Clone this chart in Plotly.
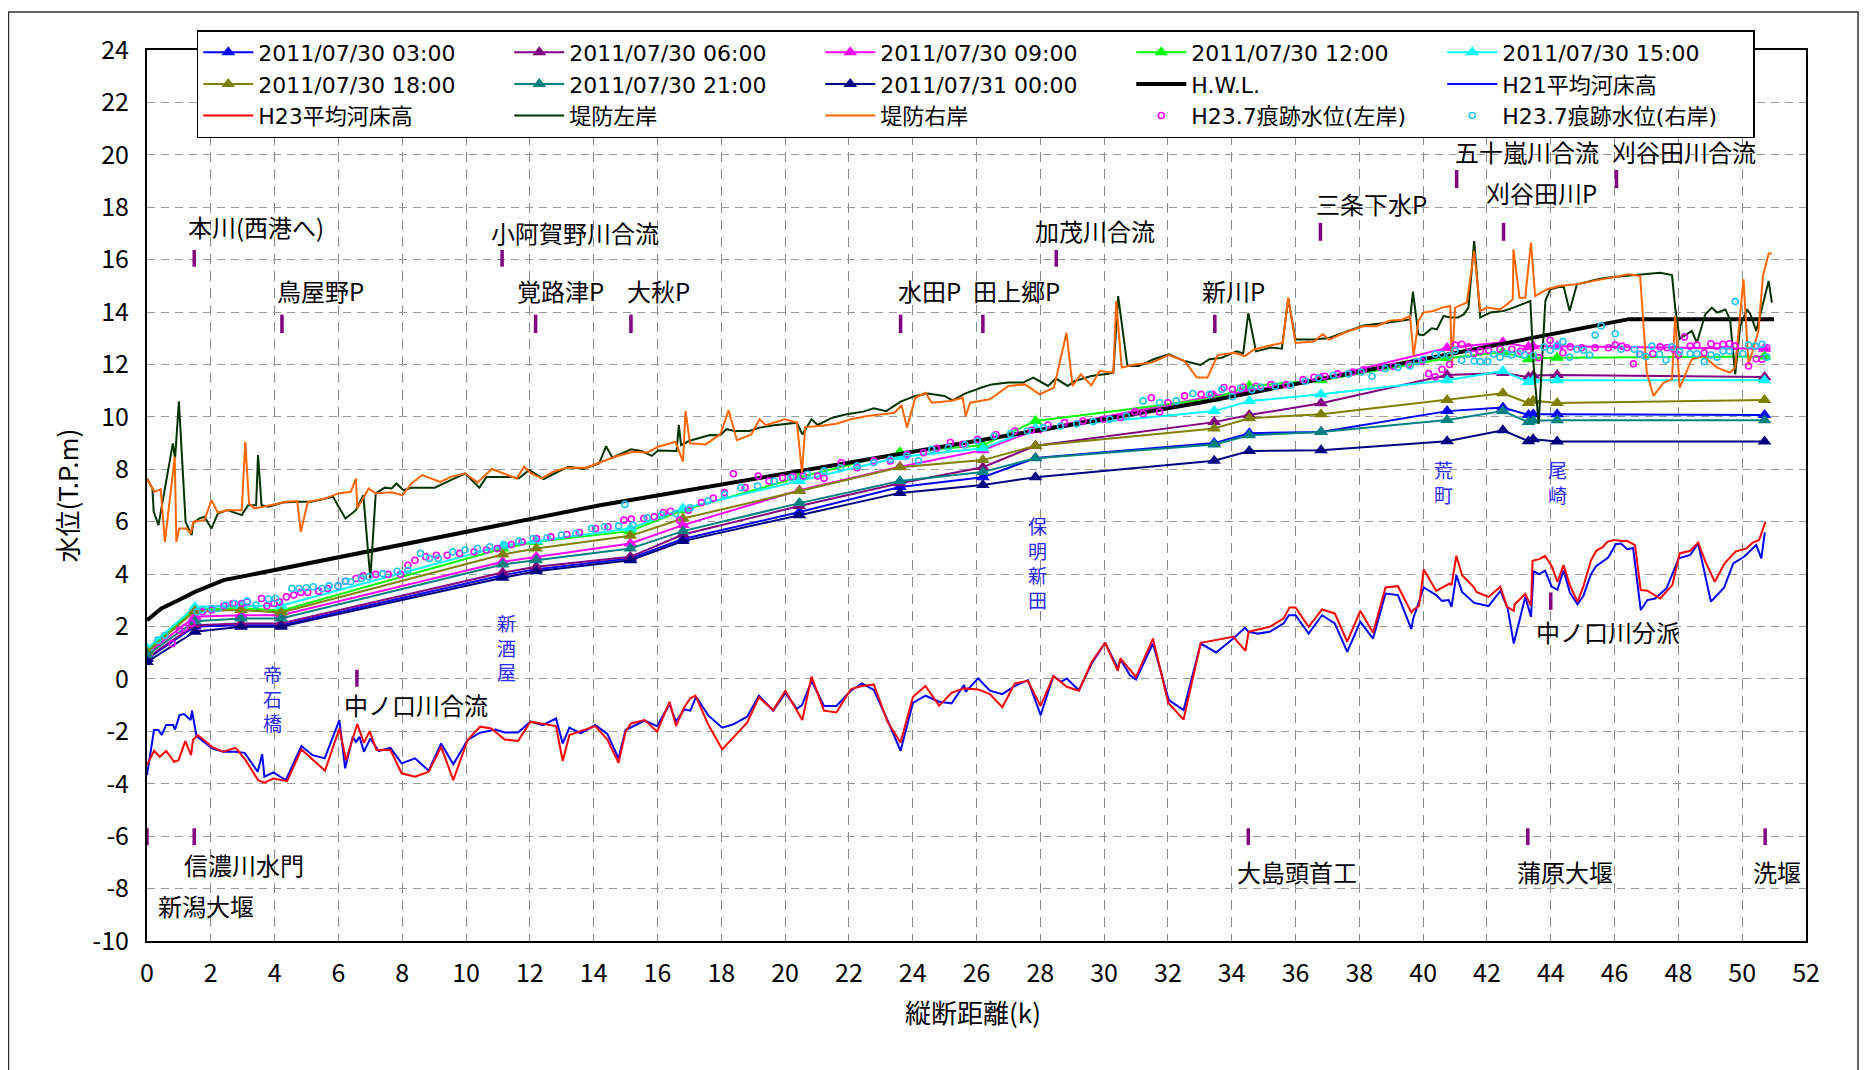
import plotly.graph_objects as go

# ---------------- data ----------------
STATION_KM = [0, 1.5, 2.95, 4.2, 11.15, 12.2, 15.15, 16.8, 20.45, 23.6, 26.2, 27.85,
              33.45, 34.55, 36.8, 40.75, 42.5, 43.3, 43.45, 44.2, 50.7]

WL_0300 = [0.76, 2.0, 2.05, 2.05, 3.96, 4.19, 4.6, 5.34, 6.37, 7.32, 7.7, 8.43, 9.0, 9.38, 9.42, 10.22, 10.36, 10.07, 10.1, 10.1, 10.07]
WL_0600 = [0.81, 2.05, 2.12, 2.12, 4.06, 4.28, 4.66, 5.51, 6.6, 7.47, 8.08, 8.9, 9.8, 10.07, 10.52, 11.6, 11.67, 11.52, 11.58, 11.6, 11.52]
WL_0900 = [0.97, 2.37, 2.43, 2.43, 4.47, 4.66, 5.17, 5.87, 7.2, 8.1, 8.73, 9.5, 10.8, 11.0, 11.47, 12.63, 12.85, 12.67, 12.7, 12.7, 12.6]
WL_1200 = [1.1, 2.65, 2.71, 2.6, 4.98, 5.23, 5.64, 6.44, 7.7, 8.65, 8.92, 9.84, 10.7, 11.18, 11.4, 12.24, 12.47, 12.2, 12.25, 12.26, 12.3]
WL_1500 = [1.16, 2.75, 2.79, 2.79, 5.08, 5.26, 5.74, 6.5, 7.55, 8.47, 8.8, 9.57, 10.22, 10.6, 10.86, 11.4, 11.75, 11.33, 11.4, 11.4, 11.4]
WL_1800 = [1.03, 2.59, 2.63, 2.54, 4.75, 4.98, 5.46, 6.12, 7.17, 8.08, 8.35, 8.9, 9.56, 9.95, 10.1, 10.64, 10.9, 10.53, 10.62, 10.53, 10.64]
WL_2100 = [0.91, 2.2, 2.31, 2.31, 4.37, 4.53, 4.98, 5.64, 6.71, 7.55, 7.9, 8.42, 8.95, 9.3, 9.42, 9.88, 10.22, 9.8, 9.85, 9.87, 9.87]
WL_0000 = [0.65, 1.8, 1.99, 1.99, 3.86, 4.11, 4.53, 5.26, 6.25, 7.1, 7.4, 7.7, 8.33, 8.7, 8.73, 9.07, 9.49, 9.07, 9.15, 9.06, 9.06]

WL_NAMES = ["2011/07/30 03:00", "2011/07/30 06:00", "2011/07/30 09:00", "2011/07/30 12:00",
            "2011/07/30 15:00", "2011/07/30 18:00", "2011/07/30 21:00", "2011/07/31 00:00"]

HWL_KM = [0, 0.45, 1.0, 1.5, 2.4, 14.2, 33.0, 46.45, 51.0]
HWL_EL = [2.24, 2.69, 3.01, 3.32, 3.77, 6.63, 10.54, 13.73, 13.73]

H21_KM = [0, 0.22, 0.36, 0.46, 0.6, 0.82, 0.88, 1.02, 1.16, 1.37, 1.41, 1.55, 2.04, 2.39, 2.77, 3.06, 3.47, 3.61, 3.68, 3.96,
          4.35, 4.84, 5.19, 5.57, 6.03, 6.21, 6.45, 6.55, 6.66, 6.8, 7.0, 7.26, 7.63, 7.98, 8.4, 8.83, 9.22, 9.6, 10.05, 10.44,
          10.93, 11.21, 11.63, 12.02, 12.4, 12.82, 13.03, 13.24, 13.59, 14.05, 14.43, 14.78, 15.0, 15.6, 15.99, 16.38, 16.58, 16.84, 17.03, 17.21,
          17.6, 18.03, 18.38, 18.81, 19.18, 19.63, 20.01, 20.37, 20.53, 20.83, 21.22, 21.61, 22.06, 22.41, 22.78, 23.21, 23.62, 24.01, 24.4, 24.83,
          25.22, 25.61, 25.66, 26.05, 26.42, 26.81, 27.2, 27.61, 28.01, 28.41, 28.65, 28.83, 29.21, 29.61, 30.03, 30.43, 30.51, 30.81, 31.0, 31.53,
          32.03, 32.49, 33.03, 33.51, 34.05, 34.41, 34.53, 34.83, 35.19, 35.63, 35.79, 36.0, 36.41, 36.83, 37.23, 37.62, 38.03, 38.43, 38.82, 39.21,
          39.63, 39.69, 40.02, 40.41, 40.59, 40.8, 40.89, 41.04, 41.22, 41.6, 42.05, 42.42, 42.65, 42.84, 43.2, 43.38, 43.46, 43.64, 43.82, 44.03,
          44.21, 44.4, 44.6, 44.84, 45.02, 45.26, 45.42, 45.8, 46.04, 46.2, 46.4, 46.58, 46.82, 47.03, 47.27, 47.63, 48.01, 48.37, 48.62, 49.02,
          49.43, 49.72, 50.06, 50.44, 50.6, 50.71]
H21_EL = [-3.67, -1.95, -1.95, -2.14, -1.76, -1.76, -1.93, -1.38, -1.34, -1.57, -1.21, -2.18, -2.65, -2.78, -2.78, -2.82, -3.54, -2.87, -3.73, -3.57,
          -3.86, -2.56, -2.91, -3.03, -1.57, -3.41, -2.21, -2.4, -2.21, -2.78, -2.27, -2.75, -2.63, -3.22, -3.03, -3.5, -2.46, -3.26, -2.33, -2.05,
          -1.93, -2.04, -2.04, -1.63, -1.76, -1.51, -2.46, -1.86, -2.08, -1.76, -2.1, -3.03, -1.95, -1.59, -1.8, -0.96, -1.63, -1.16, -1.21, -0.68,
          -1.4, -1.86, -1.73, -1.44, -0.64, -1.21, -0.53, -1.14, -1.0, -0.08, -1.03, -1.03, -0.45, -0.17, -0.42, -1.57, -2.74, -0.91, -0.64, -0.87,
          -0.93, -0.23, -0.49, 0.02, -0.45, -0.58, -0.27, -0.04, -1.38, 0.11, -0.11, 0.02, -0.43, 0.59, 1.38, 0.4, 0.75, 0.14, -0.02, 1.35,
          -0.81, -1.19, 1.35, 1.01, 1.54, 1.95, 1.8, 1.73, 1.8, 2.12, 2.43, 2.43, 1.73, 2.43, 2.12, 1.03, 2.18, 1.54, 3.26, 3.2,
          1.9, 2.31, 3.49, 3.2, 2.98, 3.01, 2.75, 3.96, 3.32, 2.9, 2.78, 3.36, 2.69, 1.35, 3.13, 2.37, 4.11, 4.0, 4.13, 3.52,
          3.41, 4.15, 3.3, 2.85, 3.16, 4.0, 4.3, 4.63, 5.14, 5.17, 4.95, 5.0, 2.63, 3.01, 3.07, 3.46, 4.6, 4.73, 5.17, 2.95,
          3.48, 4.41, 4.66, 5.11, 4.6, 5.59]

H23_KM = [0, 0.22, 0.4, 0.6, 0.85, 0.99, 1.2, 1.38, 1.44, 1.59, 2.04, 2.39, 2.78, 3.09, 3.48, 3.68, 3.96, 4.39, 4.84, 5.58,
          6.03, 6.24, 6.59, 6.8, 6.98, 7.19, 7.63, 7.98, 8.4, 8.83, 9.22, 9.6, 10.05, 10.44, 10.79, 11.21, 11.63, 12.02, 12.82, 13.03,
          13.24, 14.05, 14.43, 14.78, 15.0, 15.17, 15.6, 15.99, 16.38, 16.58, 16.84, 17.03, 17.19, 17.6, 18.03, 18.81, 19.18, 19.63, 20.01, 20.54,
          20.83, 21.22, 21.61, 22.06, 22.41, 22.78, 23.21, 23.62, 24.01, 24.4, 24.83, 25.22, 25.61, 26.05, 26.42, 26.81, 27.2, 27.61, 28.01, 28.41,
          28.83, 29.21, 29.61, 30.03, 30.43, 30.51, 31.0, 31.53, 32.01, 32.49, 33.03, 34.05, 34.43, 34.53, 35.19, 35.63, 35.81, 36.0, 36.41, 36.83,
          37.23, 37.62, 38.03, 38.43, 38.82, 39.21, 39.63, 39.69, 39.87, 40.02, 40.41, 40.83, 40.89, 41.04, 41.22, 41.6, 41.67, 42.05, 42.42, 42.63,
          42.84, 42.87, 43.2, 43.38, 43.43, 43.64, 43.82, 44.03, 44.21, 44.4, 44.6, 44.84, 45.02, 45.26, 45.44, 45.62, 45.77, 45.98, 46.22, 46.4,
          46.64, 46.82, 47.03, 47.43, 47.81, 48.04, 48.37, 48.62, 48.85, 49.14, 49.45, 49.79, 50.13, 50.33, 50.53, 50.73]
H23_EL = [-3.29, -2.74, -2.97, -2.75, -3.16, -3.1, -2.37, -2.91, -2.33, -2.14, -2.59, -2.78, -2.63, -3.1, -3.86, -3.96, -3.8, -3.9, -2.69, -3.5,
          -1.89, -3.1, -1.72, -2.44, -1.99, -2.71, -2.71, -3.6, -3.73, -3.54, -2.59, -3.86, -2.33, -1.82, -1.89, -2.31, -2.37, -1.63, -1.8, -3.13,
          -2.14, -1.8, -2.31, -3.2, -2.01, -1.7, -1.57, -2.01, -0.87, -1.8, -1.08, -0.74, -0.64, -1.76, -2.69, -1.67, -0.7, -1.19, -0.45, -1.57,
          0.09, -1.21, -1.28, -0.39, -0.27, -0.21, -1.63, -2.43, -0.68, -0.27, -1.02, -0.53, -0.36, -0.4, -0.58, -1.08, -0.17, -0.07, -1.03, 0.11,
          -0.3, -0.45, 0.65, 1.38, 0.31, 0.78, 0.08, 1.54, -0.91, -1.55, 1.38, 1.61, 1.07, 1.8, 1.99, 2.31, 2.73, 2.73, 1.99, 2.65,
          2.5, 1.42, 2.6, 1.76, 3.49, 3.54, 2.54, 2.63, 2.79, 4.18, 3.36, 3.64, 3.58, 4.7, 3.96, 3.49, 3.32, 3.13, 3.52, 2.75,
          2.6, 2.85, 3.24, 2.79, 4.51, 4.57, 4.7, 4.3, 3.7, 4.34, 3.58, 2.94, 3.52, 4.53, 4.91, 5.02, 5.23, 5.3, 5.26, 5.26,
          5.11, 3.39, 3.37, 3.07, 3.58, 4.79, 4.89, 5.2, 4.47, 3.71, 4.41, 4.86, 4.98, 5.2, 5.3, 6.0]

LEVEE_L_KM = [0, 0.17, 0.21, 0.36, 0.81, 0.88, 1.0, 1.21, 1.4, 1.44, 1.63, 1.8, 2.02, 2.22, 2.52, 2.97, 3.17, 3.42, 3.48, 3.59,
              3.81, 4.26, 4.71, 5.15, 5.83, 6.22, 6.55, 6.78, 7.0, 7.17, 7.45, 7.67, 7.82, 8.04, 8.29, 9.02, 9.52, 9.97, 10.42, 10.64,
              11.42, 11.65, 11.98, 12.43, 12.77, 13.22, 13.66, 14.17, 14.39, 14.59, 15.17, 15.5, 15.82, 16.02, 16.6, 16.67, 16.74, 16.99, 17.64, 17.97,
              18.16, 18.42, 18.88, 19.2, 19.66, 20.37, 20.54, 20.83, 21.02, 21.48, 21.93, 22.45, 22.78, 23.17, 23.62, 24.08, 24.47, 24.99, 25.25, 25.64,
              26.16, 26.48, 27.0, 27.46, 27.78, 28.24, 28.49, 28.86, 29.08, 29.6, 30.12, 30.29, 30.44, 30.73, 31.09, 31.55, 32.03, 32.52, 33.02, 33.3,
              33.69, 34.15, 34.36, 34.52, 34.76, 35.23, 35.57, 35.77, 36.0, 36.58, 37.05, 37.59, 38.13, 38.81, 39.21, 39.59, 39.68, 39.85, 40.01, 40.27,
              40.43, 40.64, 40.85, 41.09, 41.27, 41.42, 41.6, 41.79, 42.1, 42.52, 42.83, 43.2, 43.36, 43.46, 43.62, 43.83, 43.98, 44.4, 44.59, 44.82,
              45.24, 45.55, 45.97, 46.49, 47.01, 47.43, 47.8, 47.9, 48.04, 48.27, 48.42, 48.58, 48.84, 49.05, 49.21, 49.47, 49.62, 49.78, 49.94, 50.15,
              50.25, 50.44, 50.83, 50.93]
LEVEE_L_EL = [7.65, 7.27, 6.38, 5.87, 8.99, 8.41, 10.58, 5.99, 5.49, 5.93, 6.12, 6.19, 5.74, 6.31, 6.44, 6.25, 6.63, 6.63, 8.54, 6.63,
              6.57, 6.73, 6.76, 6.76, 6.95, 6.12, 6.44, 7.01, 3.83, 7.08, 7.3, 7.27, 7.46, 7.2, 7.3, 7.3, 7.59, 7.84, 7.3, 7.71,
              7.71, 7.65, 7.97, 7.63, 7.84, 8.1, 8.01, 8.22, 8.88, 8.44, 8.76, 8.7, 8.51, 8.72, 8.7, 9.69, 8.92, 9.08, 9.31, 9.3,
              9.53, 9.46, 9.46, 9.59, 9.68, 9.78, 9.33, 9.91, 9.69, 9.97, 10.1, 10.2, 10.33, 10.22, 10.58, 10.8, 10.89, 10.8, 10.63, 10.89,
              11.12, 11.24, 11.31, 11.31, 11.5, 11.18, 11.46, 11.18, 11.37, 11.56, 11.65, 11.69, 14.61, 11.94, 11.94, 12.2, 12.39, 12.13, 11.98, 12.2,
              12.26, 12.5, 12.42, 13.97, 12.5, 12.65, 12.6, 14.5, 12.95, 12.95, 13.01, 13.26, 13.49, 13.58, 13.65, 13.72, 14.78, 13.15, 13.12, 13.38,
              13.34, 13.85, 13.79, 13.79, 13.91, 14.17, 16.71, 13.79, 13.98, 14.04, 14.17, 14.36, 14.42, 12.0, 9.74, 14.42, 14.87, 15.0, 14.04, 15.06,
              15.19, 15.27, 15.34, 15.4, 15.44, 15.5, 15.41, 14.17, 12.98, 13.15, 13.28, 12.83, 13.91, 14.17, 13.98, 14.1, 13.72, 11.62, 13.47, 14.1,
              13.94, 13.28, 15.19, 14.36]

LEVEE_R_KM = [0, 0.23, 0.43, 0.56, 0.87, 0.92, 1.01, 1.24, 1.37, 1.46, 1.8, 2.02, 2.22, 2.52, 2.97, 3.08, 3.2, 3.36, 3.64, 4.04,
              4.37, 4.71, 4.82, 5.04, 5.6, 5.99, 6.39, 6.55, 6.59, 6.95, 7.17, 7.67, 8.01, 8.29, 8.63, 9.19, 9.52, 9.97, 10.36, 10.81,
              11.2, 11.59, 11.82, 12.04, 12.38, 12.71, 13.16, 13.77, 14.11, 14.67, 15.23, 15.68, 16.02, 16.57, 16.8, 16.88, 17.02, 17.51, 17.97, 18.23,
              18.49, 18.94, 19.2, 19.4, 19.98, 20.37, 20.53, 20.63, 21.09, 21.61, 22.06, 22.58, 23.04, 23.43, 23.65, 23.82, 24.08, 24.4, 24.6, 25.18,
              25.57, 25.66, 25.8, 26.42, 27.0, 27.52, 27.98, 28.43, 28.82, 29.01, 29.27, 29.6, 29.86, 30.29, 30.38, 30.55, 30.96, 31.48, 32.03, 32.52,
              32.91, 33.24, 33.56, 34.08, 34.41, 34.7, 35.23, 35.6, 35.77, 36.0, 36.58, 36.85, 37.05, 37.59, 38.13, 38.54, 38.94, 39.34, 39.59, 39.7,
              39.85, 40.01, 40.32, 40.59, 40.85, 40.9, 41.0, 41.37, 41.6, 41.79, 42.0, 42.41, 42.62, 42.81, 42.83, 43.02, 43.2, 43.38, 43.51, 43.88,
              44.3, 44.82, 45.34, 45.86, 46.44, 46.8, 47.01, 47.22, 47.53, 47.8, 47.9, 48.04, 48.42, 48.79, 49.21, 49.62, 49.78, 50.04, 50.2, 50.51,
              50.65, 50.83, 50.93]
LEVEE_R_EL = [7.65, 7.14, 7.24, 5.23, 8.48, 5.23, 5.74, 5.74, 5.55, 6.0, 6.06, 6.82, 6.35, 6.44, 6.44, 9.05, 6.7, 6.51, 6.57, 6.66,
              6.76, 6.79, 5.61, 6.76, 6.89, 7.08, 7.14, 7.65, 6.51, 7.27, 7.08, 7.12, 7.01, 7.46, 7.78, 7.52, 7.71, 7.84, 7.5, 8.01,
              7.84, 7.65, 8.1, 7.84, 7.65, 7.9, 8.06, 8.06, 8.22, 8.48, 8.67, 8.64, 8.86, 9.05, 8.29, 10.22, 8.99, 8.95, 9.33, 10.25,
              9.11, 9.33, 9.91, 9.68, 9.91, 9.78, 7.87, 9.61, 9.65, 9.74, 9.91, 10.03, 10.1, 10.16, 10.45, 9.59, 10.73, 10.92, 10.54, 10.61,
              10.73, 10.03, 10.54, 10.67, 11.18, 11.24, 10.86, 11.12, 13.21, 11.18, 11.62, 11.2, 11.75, 11.69, 14.42, 11.88, 12.0, 12.07, 12.36, 12.13,
              11.5, 11.5, 12.36, 12.45, 12.32, 12.57, 12.73, 12.82, 14.56, 12.82, 12.88, 13.16, 12.95, 13.24, 13.46, 13.46, 13.67, 13.71, 13.85, 12.32,
              13.66, 13.98, 14.04, 14.17, 14.23, 11.88, 14.17, 14.36, 16.33, 14.04, 14.17, 14.1, 14.29, 14.49, 16.39, 14.55, 14.55, 16.65, 14.61, 14.87,
              15.0, 15.06, 15.19, 15.31, 15.44, 15.38, 11.69, 10.8, 11.3, 11.43, 13.85, 11.11, 12.2, 12.32, 11.88, 11.69, 11.88, 15.25, 12.0, 13.28,
              15.38, 16.23, 16.23]

MARK_L_KM = [0.79, 1.01, 1.18, 1.4, 1.74, 2.02, 2.41, 2.69, 2.97, 3.14, 3.59, 3.76, 3.98, 4.15, 4.37, 4.6, 4.82, 5.04, 5.38, 5.66,
             5.99, 6.22, 6.55, 6.78, 7.17, 7.56, 7.95, 8.18, 8.4, 8.74, 9.07, 9.41, 9.8, 10.25, 10.64, 10.98, 11.42, 11.76, 12.21, 12.66,
             13.16, 13.55, 14.06, 14.45, 14.95, 15.18, 15.57, 15.9, 16.18, 16.41, 16.69, 16.97, 17.38, 17.75, 18.1, 18.38, 18.75, 19.16, 19.5, 19.92,
             20.25, 20.57, 21.02, 21.22, 21.76, 22.26, 22.78, 23.3, 23.82, 24.34, 24.75, 25.18, 25.57, 26.03, 26.61, 27.2, 27.72, 28.24, 28.76, 29.34,
             29.99, 30.51, 30.96, 31.22, 31.48, 31.74, 32.0, 32.52, 33.04, 33.37, 33.76, 34.02, 34.36, 34.76, 35.23, 35.71, 36.24, 36.58, 36.92, 37.32,
             37.79, 38.13, 38.67, 39.07, 39.55, 39.95, 40.17, 40.38, 40.59, 40.83, 41.0, 41.21, 41.42, 41.58, 41.79, 42.05, 42.41, 42.78, 43.05, 43.3,
             43.62, 43.98, 44.38, 44.61, 44.97, 45.39, 45.81, 46.02, 46.23, 46.39, 46.59, 46.8, 47.2, 47.43, 47.64, 47.85, 48.0, 48.19, 48.37, 48.58,
             48.81, 49.02, 49.21, 49.4, 49.6, 49.78, 50.2, 50.44, 50.62, 50.77]
MARK_L_EL = [1.35, 1.86, 1.95, 2.12, 2.56, 2.63, 2.79, 2.88, 2.88, 2.94, 3.07, 2.79, 2.88, 2.94, 3.13, 3.2, 3.3, 3.3, 3.35, 3.45,
             3.55, 3.73, 3.83, 3.94, 3.99, 3.99, 3.99, 4.34, 4.53, 4.66, 4.72, 4.72, 4.79, 4.85, 4.92, 4.98, 5.13, 5.23, 5.36, 5.42,
             5.51, 5.59, 5.74, 5.81, 6.06, 6.1, 6.12, 6.19, 6.35, 6.4, 6.06, 6.44, 6.73, 6.9, 7.11, 7.83, 7.3, 7.74, 7.55, 7.68,
             7.72, 7.74, 7.74, 7.66, 8.25, 8.06, 8.32, 8.32, 8.57, 8.63, 8.8, 9.02, 8.95, 9.14, 9.33, 9.46, 9.49, 9.69, 9.78, 9.84,
             9.91, 9.97, 10.2, 10.12, 10.73, 10.19, 10.54, 10.8, 10.86, 10.86, 11.12, 11.05, 11.14, 11.17, 11.23, 11.23, 11.42, 11.51, 11.55, 11.64,
             11.71, 11.8, 11.89, 11.93, 12.0, 12.12, 11.65, 11.53, 11.81, 12.0, 12.74, 12.77, 12.67, 12.41, 12.51, 12.54, 12.58, 12.58, 12.5, 12.54,
             12.26, 12.92, 12.45, 12.67, 12.64, 12.64, 12.64, 12.74, 12.7, 12.64, 12.03, 12.39, 12.41, 12.67, 12.64, 12.58, 12.36, 13.05, 12.7, 12.74,
             12.45, 12.79, 12.7, 12.77, 12.79, 12.7, 11.94, 12.22, 12.2, 12.64]

MARK_R_KM = [0.34, 0.56, 1.57, 1.74, 2.02, 2.22, 2.47, 2.75, 3.14, 3.42, 3.81, 4.03, 4.54, 4.76, 4.99, 5.21, 5.49, 5.71, 5.99, 6.22,
             6.39, 6.72, 6.95, 7.39, 7.84, 8.18, 8.57, 8.85, 9.13, 9.58, 9.97, 10.36, 10.75, 11.2, 11.65, 12.1, 12.54, 12.99, 13.44, 13.94,
             14.34, 14.78, 14.98, 15.23, 15.68, 16.13, 16.57, 17.02, 17.58, 18.1, 18.62, 19.14, 19.66, 20.18, 20.7, 21.22, 21.74, 22.26, 22.78, 23.3,
             23.82, 24.18, 24.6, 25.12, 25.64, 26.03, 26.55, 27.07, 27.59, 28.1, 28.63, 29.14, 29.66, 30.18, 30.7, 31.22, 31.74, 32.26, 32.78, 33.3,
             33.69, 34.02, 34.28, 34.63, 34.9, 35.37, 35.84, 36.31, 36.72, 37.19, 37.66, 38.06, 38.4, 38.81, 39.21, 39.59, 39.8, 40.01, 40.38, 40.59,
             40.83, 41.0, 41.21, 41.42, 41.6, 41.79, 42.02, 42.21, 42.41, 42.62, 42.78, 42.99, 43.18, 43.46, 43.79, 43.98, 44.19, 44.38, 44.59, 44.82,
             45.03, 45.22, 45.39, 45.58, 46.02, 46.2, 46.62, 46.78, 46.98, 47.17, 47.41, 47.61, 47.8, 48.04, 48.37, 48.58, 48.81, 49.02, 49.21, 49.4,
             49.6, 49.78, 50.02, 50.2, 50.41, 50.62, 50.77]
MARK_R_EL = [1.48, 1.67, 2.56, 2.65, 2.69, 2.69, 2.82, 2.88, 2.97, 2.82, 3.05, 3.07, 3.45, 3.45, 3.48, 3.52, 3.45, 3.55, 3.55, 3.73,
             3.71, 3.83, 3.9, 4.02, 4.11, 4.15, 4.79, 4.6, 4.6, 4.85, 4.92, 4.98, 5.04, 5.11, 5.26, 5.36, 5.39, 5.49, 5.55, 5.74,
             5.81, 5.84, 6.66, 5.87, 6.15, 6.25, 6.31, 6.53, 6.79, 7.04, 7.3, 7.36, 7.55, 7.68, 7.81, 7.94, 8.06, 8.13, 8.25, 8.38,
             8.51, 8.32, 8.76, 8.83, 8.93, 9.08, 9.27, 9.36, 9.46, 9.59, 9.65, 9.74, 9.82, 9.91, 10.03, 10.61, 10.54, 10.61, 10.89, 10.86,
             11.05, 10.77, 11.09, 11.04, 11.14, 11.17, 11.2, 11.36, 11.48, 11.59, 11.64, 11.71, 11.55, 11.84, 11.89, 11.94, 12.11, 12.2, 12.39, 12.39,
             12.32, 12.54, 12.16, 12.39, 12.13, 12.11, 12.11, 12.39, 12.28, 12.41, 12.36, 12.41, 12.36, 12.35, 12.67, 12.54, 12.7, 12.87, 12.28, 12.58,
             12.54, 12.36, 13.12, 13.47, 13.17, 12.58, 12.58, 12.39, 12.3, 12.7, 12.39, 12.17, 12.67, 12.49, 12.41, 12.41, 12.11, 12.36, 12.28, 12.51,
             12.51, 14.4, 12.41, 12.74, 12.7, 12.77, 12.28]

# landmark labels (black text + purple tick)
LBL_TEXT = ["本川(西港へ)", "鳥屋野P", "小阿賀野川合流", "覚路津P", "大秋P", "水田P", "田上郷P", "加茂川合流",
            "新川P", "三条下水P", "五十嵐川合流", "刈谷田川P", "刈谷田川合流", "中ノ口川合流", "中ノ口川分派",
            "信濃川水門", "新潟大堰", "大島頭首工", "蒲原大堰", "洗堰"]
LBL_X = [3.41, 5.43, 13.41, 12.96, 16.04, 24.54, 27.24, 29.71, 34.06, 38.37, 43.24, 43.72, 48.18, 8.43, 45.79,
         3.03, 1.84, 36.04, 44.44, 51.1]
LBL_Y = [17.25, 14.83, 17.02, 14.83, 14.83, 14.83, 14.83, 17.11, 14.83, 18.16, 20.12, 18.57, 20.12, -0.97, 1.82,
         -7.08, -8.63, -7.36, -7.36, -7.36]
TICK_X = [1.48, 4.23, 11.13, 12.18, 15.17, 23.62, 26.2, 28.5, 33.47, 36.78, 41.05, 42.52, 46.06, 6.58, 44.0,
          1.48, 0.0, 34.52, 43.28, 50.72]
TICK_Y0 = [15.73, 13.2, 15.73, 13.2, 13.2, 13.2, 13.2, 15.73, 13.2, 16.72, 18.73, 16.72, 18.73, -0.3, 2.64,
           -6.34, -6.34, -6.34, -6.34, -6.34]
TICK_Y1 = [16.37, 13.9, 16.37, 13.9, 13.9, 13.9, 13.9, 16.37, 13.9, 17.4, 19.42, 17.4, 19.42, 0.35, 3.3,
           -5.7, -5.7, -5.7, -5.7, -5.7]

# gauging-station names (blue, vertical)
STN_TEXT = ["帝石橋", "新酒屋", "保明新田", "荒町", "尾崎"]
STN_X = [3.93, 11.28, 27.91, 40.65, 44.21]
STN_Y = [-0.74, 1.23, 4.44, 7.5, 7.5]

X_TICKS = list(range(0, 53, 2))
Y_TICKS = list(range(-10, 25, 2))

# ---------------- figure ----------------
FONT = "Noto Sans CJK JP"
LEGEND_FONT = "DejaVu Sans, Noto Sans CJK JP"
WL_COLORS = ["#0000ff", "#800080", "#ff00ff", "#00ff00", "#00ffff", "#808000", "#008080", "#000080"]
WL_DATA = [WL_0300, WL_0600, WL_0900, WL_1200, WL_1500, WL_1800, WL_2100, WL_0000]

fig = go.Figure()
for name, col, vals in zip(WL_NAMES, WL_COLORS, WL_DATA):
    fig.add_trace(go.Scatter(x=STATION_KM, y=vals, name=name, mode="lines+markers",
                             line=dict(color=col, width=2),
                             marker=dict(symbol="triangle-up", size=12, color=col)))

fig.add_trace(go.Scatter(x=HWL_KM, y=HWL_EL, name="H.W.L.", mode="lines",
                         line=dict(color="#000000", width=4)))
fig.add_trace(go.Scatter(x=H21_KM, y=H21_EL, name="H21平均河床高", mode="lines",
                         line=dict(color="#0000ff", width=2)))
fig.add_trace(go.Scatter(x=H23_KM, y=H23_EL, name="H23平均河床高", mode="lines",
                         line=dict(color="#ff0000", width=2)))
fig.add_trace(go.Scatter(x=LEVEE_L_KM, y=LEVEE_L_EL, name="堤防左岸", mode="lines",
                         line=dict(color="#003300", width=2)))
fig.add_trace(go.Scatter(x=LEVEE_R_KM, y=LEVEE_R_EL, name="堤防右岸", mode="lines",
                         line=dict(color="#ff6600", width=2)))
fig.add_trace(go.Scatter(x=MARK_L_KM, y=MARK_L_EL, name="H23.7痕跡水位(左岸)", mode="markers",
                         marker=dict(symbol="circle-open", size=6, color="#ff00ff", line=dict(width=1.6))))
fig.add_trace(go.Scatter(x=MARK_R_KM, y=MARK_R_EL, name="H23.7痕跡水位(右岸)", mode="markers",
                         marker=dict(symbol="circle-open", size=6, color="#22c4f0", line=dict(width=1.6))))

# purple landmark ticks
tx, ty = [], []
for x, y0, y1 in zip(TICK_X, TICK_Y0, TICK_Y1):
    tx += [x, x, None]
    ty += [y0, y1, None]
fig.add_trace(go.Scatter(x=tx, y=ty, mode="lines", showlegend=False, hoverinfo="skip",
                         line=dict(color="#800080", width=3.5)))

annotations = []
for t, x, y in zip(LBL_TEXT, LBL_X, LBL_Y):
    annotations.append(dict(x=x, y=y, xref="x", yref="y", text=t, showarrow=False,
                            font=dict(size=24, color="#000000", family=FONT)))
for t, x, y in zip(STN_TEXT, STN_X, STN_Y):
    annotations.append(dict(x=x, y=y, xref="x", yref="y", text="<br>".join(list(t)), showarrow=False,
                            font=dict(size=19, color="#2a2aff", family=FONT)))
annotations.append(dict(x=-0.0488, y=7.0, xref="paper", yref="y", text="水位(T.P.m)", textangle=-90,
                        xanchor="center", yanchor="middle",
                        showarrow=False, font=dict(size=26, color="#000000", family=FONT)))
annotations.append(dict(x=25.9, y=-0.0786, xref="x", yref="paper", text="縦断距離(k)",
                        xanchor="center", yanchor="middle",
                        showarrow=False, font=dict(size=26, color="#000000", family=FONT)))

# page has an 8px body margin: figure is 8px smaller and margins compensated
fig.update_layout(
    width=1866, height=1062,
    margin=dict(l=139, r=68, t=42, b=129, autoexpand=False),
    paper_bgcolor="#ffffff", plot_bgcolor="#ffffff",
    font=dict(family=FONT, size=22, color="#000000"),
    showlegend=True,
    legend=dict(orientation="h", x=0.030, y=1.0224, xanchor="left", yanchor="top",
                bgcolor="#ffffff", bordercolor="#000000", borderwidth=1.5,
                itemwidth=50, entrywidth=246, entrywidthmode="pixels", traceorder="normal",
                font=dict(size=22, family=LEGEND_FONT, color="#000000")),
    annotations=annotations,
    shapes=[dict(type="rect", xref="paper", yref="paper",
                 x0=(0.5 - 139) / 1659, x1=(1850 - 139) / 1659, y0=-0.2, y1=(933 - 4) / 891,
                 line=dict(color="#333333", width=1.5), fillcolor="rgba(0,0,0,0)", layer="below")],
)
fig.update_xaxes(range=[0, 52], tickmode="array", tickvals=X_TICKS, ticktext=[str(v) for v in X_TICKS],
                 showgrid=True, gridcolor="#8a8a8a", gridwidth=1, griddash="10px,7px",
                 showline=True, linecolor="#000000", linewidth=2, mirror=True,
                 zeroline=False, ticks="", ticklabelstandoff=9,
                 tickfont=dict(size=25, family=FONT, color="#000000"))
fig.update_yaxes(range=[-10, 24], tickmode="array", tickvals=Y_TICKS, ticktext=[str(v) for v in Y_TICKS],
                 showgrid=True, gridcolor="#9a9a9a", gridwidth=1, griddash="8px,6px",
                 showline=True, linecolor="#000000", linewidth=2, mirror=True,
                 zeroline=False, ticks="", ticklabelstandoff=11,
                 tickfont=dict(size=25, family=FONT, color="#000000"))

fig.write_html("out.html")
